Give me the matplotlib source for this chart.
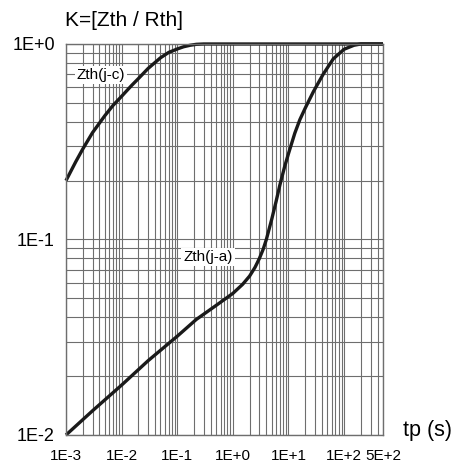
import matplotlib
matplotlib.use("Agg")
import matplotlib.pyplot as plt
from matplotlib.ticker import LogLocator, FixedLocator, NullFormatter

plt.rcParams['font.family'] = ['Liberation Sans', 'DejaVu Sans']

# Zth(j-c) : K vs tp
t_jc = [1e-3, 1.5e-3, 2e-3, 3e-3, 5e-3, 7e-3, 1e-2, 1.5e-2, 2e-2, 3e-2,
        5e-2, 7e-2, 0.1, 0.13, 0.17, 0.22, 0.3, 500]
z_jc = [0.2, 0.25, 0.29, 0.352, 0.43, 0.485, 0.54, 0.612, 0.665, 0.75,
        0.85, 0.905, 0.943, 0.968, 0.985, 0.996, 1.0, 1.0]

# Zth(j-a) : K vs tp
t_ja = [1e-3, 3e-3, 1e-2, 3e-2, 0.1, 0.22, 0.5, 1, 1.5, 2, 2.5, 3, 3.5,
        4, 5, 6, 7, 8.5, 10, 13, 16, 20, 28, 42, 64, 100, 150, 200, 500]
z_ja = [0.01, 0.0133, 0.018, 0.024, 0.032, 0.039, 0.046, 0.053, 0.059,
        0.065, 0.072, 0.08, 0.089, 0.1, 0.127, 0.157, 0.19, 0.235, 0.275,
        0.35, 0.41, 0.47, 0.57, 0.7, 0.84, 0.94, 0.985, 1.0, 1.0]

x_ticks = [1e-3, 1e-2, 1e-1, 1, 10, 100, 500]
x_labels = ['1E-3', '1E-2', '1E-1', '1E+0', '1E+1', '1E+2', '5E+2']
y_ticks = [1e-2, 1e-1, 1]
y_labels = ['1E-2', '1E-1', '1E+0']

fig = plt.figure(figsize=(4.56, 4.69), dpi=100)
ax = fig.add_axes([0.1447, 0.0725, 0.6952, 0.8337])

ax.set_xscale('log')
ax.set_yscale('log')
ax.set_xlim(1e-3, 500)
ax.set_ylim(1e-2, 1)

gc = '#6e6e6e'
ax.xaxis.set_major_locator(FixedLocator(x_ticks))
ax.xaxis.set_minor_locator(LogLocator(base=10, subs=range(2, 10), numticks=20))
ax.yaxis.set_major_locator(FixedLocator(y_ticks))
ax.yaxis.set_minor_locator(LogLocator(base=10, subs=range(2, 10), numticks=20))
ax.xaxis.set_minor_formatter(NullFormatter())
ax.yaxis.set_minor_formatter(NullFormatter())
ax.grid(True, which='both', color=gc, linewidth=0.8)
ax.set_axisbelow(True)

ax.set_xticklabels(x_labels, fontsize=11)
ax.set_yticklabels(y_labels, fontsize=13)
ax.tick_params(which='both', length=0)
ax.tick_params(axis='x', pad=10)
ax.tick_params(axis='y', pad=8)

for s in ax.spines.values():
    s.set_color(gc)
    s.set_linewidth(1.0)

ax.plot(t_jc, z_jc, color='#1a1a1a', linewidth=2.4, clip_on=False,
        solid_capstyle='butt')
ax.plot(t_ja, z_ja, color='#1a1a1a', linewidth=2.4, clip_on=False,
        solid_capstyle='butt')

box = dict(facecolor='white', edgecolor='none', pad=1.5)
ax.text(4.26e-3, 0.694, 'Zth(j-c)', fontsize=11, ha='center', va='center', bbox=box)
ax.text(0.358, 0.0814, 'Zth(j-a)', fontsize=11, ha='center', va='center', bbox=box)

fig.text(0.1425, 0.957, 'K=[Zth / Rth]', fontsize=15, ha='left', va='center')
fig.text(0.884, 0.083, 'tp (s)', fontsize=15.5, ha='left', va='center')

fig.savefig('out.png', dpi=100)
